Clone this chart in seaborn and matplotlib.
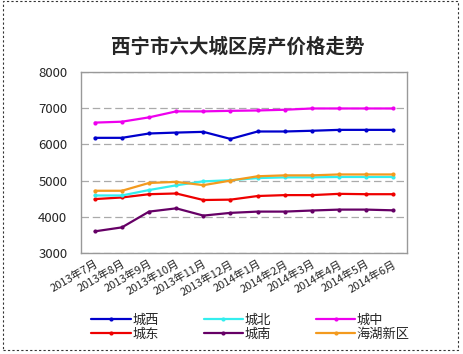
import numpy as np
import pandas as pd
import seaborn as sns
import matplotlib.pyplot as plt
from matplotlib.patches import Rectangle

months = ["2013年7月", "2013年8月", "2013年9月", "2013年10月", "2013年11月", "2013年12月",
          "2014年1月", "2014年2月", "2014年3月", "2014年4月", "2014年5月", "2014年6月"]

chengxi = [6180, 6180, 6300, 6325, 6345, 6150, 6355, 6355, 6375, 6400, 6400, 6400]
chengbei = [4590, 4590, 4740, 4870, 4980, 5010, 5070, 5090, 5090, 5100, 5100, 5100]
chengzhong = [6600, 6625, 6745, 6910, 6910, 6925, 6935, 6955, 6990, 6990, 6990, 6990]
chengdong = [4490, 4535, 4625, 4645, 4465, 4475, 4575, 4600, 4600, 4635, 4625, 4625]
chengnan = [3600, 3710, 4145, 4235, 4035, 4110, 4145, 4145, 4175, 4200, 4200, 4180]
haihu = [4720, 4720, 4935, 4965, 4875, 5000, 5120, 5145, 5145, 5170, 5170, 5170]

# legend order fills columns first: 城西/城东, 城北/城南, 城中/海湖新区
series = {
    "城西": chengxi,
    "城东": chengdong,
    "城北": chengbei,
    "城南": chengnan,
    "城中": chengzhong,
    "海湖新区": haihu,
}
colors = {
    "城西": "#0000CC",
    "城东": "#EE0000",
    "城北": "#33EEEE",
    "城南": "#660066",
    "城中": "#EE00EE",
    "海湖新区": "#F39A1E",
}

rows = []
for name, vals in series.items():
    for i, v in enumerate(vals):
        rows.append({"idx": i, "price": v, "area": name})
df = pd.DataFrame(rows)

sns.set_style("white")
plt.rcParams["font.family"] = ["Noto Sans CJK SC", "DejaVu Sans"]

fig = plt.figure(figsize=(4.64, 3.54), dpi=100, facecolor="white")
ax = fig.add_axes([0.175, 0.285, 0.702, 0.512])

sns.lineplot(data=df, x="idx", y="price", hue="area", hue_order=list(series.keys()),
             palette=colors, marker="o", markersize=3, markeredgewidth=0,
             linewidth=1.6, ax=ax)

ax.set_xlim(-0.5, len(months) - 0.5)
ax.set_ylim(3000, 8000)
ax.set_yticks([3000, 4000, 5000, 6000, 7000, 8000])
ax.set_xticks(range(len(months)))
ax.set_xticklabels(months, rotation=30, ha="right", rotation_mode="anchor", fontsize=8)
ax.set_xticks(np.arange(0.5, len(months) - 0.5, 1), minor=True)
ax.tick_params(axis="x", which="major", length=0, pad=4)
ax.tick_params(axis="x", which="minor", length=3, direction="in", color="#999999")
ax.tick_params(axis="y", length=0, labelsize=9.5, pad=10)
ax.set_xlabel("")
ax.set_ylabel("")
for s in ax.spines.values():
    s.set_color("#999999")
    s.set_linewidth(1.0)
ax.yaxis.grid(True, linestyle=(0, (6, 3)), color="#AAAAAA", linewidth=0.9)
ax.set_axisbelow(True)

ax.set_title("西宁市六大城区房产价格走势", fontsize=14, fontweight="bold", pad=14, x=0.48)

handles, labels = ax.get_legend_handles_labels()
ax.legend(handles, labels, ncol=3, loc="upper center", bbox_to_anchor=(0.52, -0.285),
          frameon=False, fontsize=9.5, handlelength=3.0, handletextpad=0.1,
          columnspacing=3.4, labelspacing=0.05, borderpad=0.2)

fig.patches.append(Rectangle((0.0065, 0.011), 0.98, 0.985, transform=fig.transFigure,
                             fill=False, edgecolor="#333333", linestyle=(0, (2, 2)),
                             linewidth=0.8))

fig.savefig("out.png", dpi=100, facecolor="white")
